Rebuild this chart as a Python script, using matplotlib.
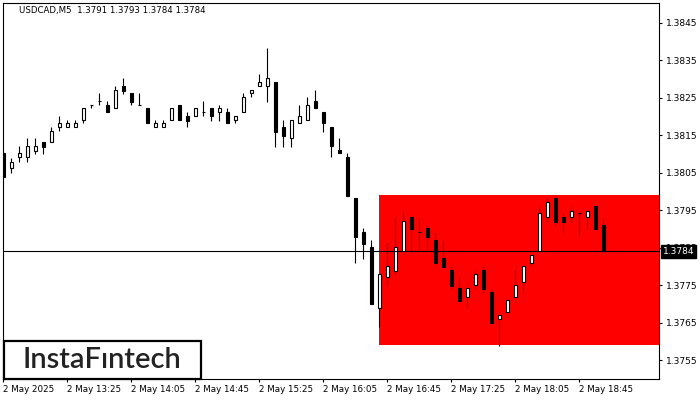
import matplotlib
matplotlib.use("Agg")
import matplotlib.pyplot as plt
import matplotlib.transforms as mtransforms
from matplotlib.patches import Rectangle
import numpy as np

title_text = "USDCAD,M5  1.3791 1.3793 1.3784 1.3784"

opens = [1.38103, 1.38063, 1.38092, 1.38092, 1.38108, 1.38132, 1.38132, 1.38172, 1.38172, 1.38172,
         1.38191, 1.38230, 1.38241, 1.38231, 1.38223, 1.38281, 1.38263, 1.38231, 1.38223, 1.38172,
         1.38172, 1.38191, 1.38231, 1.38201, 1.38201, 1.38212, 1.38223, 1.38212, 1.38212, 1.38191,
         1.38212, 1.38263, 1.38281, 1.38281, 1.38292, 1.38172, 1.38143, 1.38183, 1.38191, 1.38241,
         1.38212, 1.38172, 1.38111, 1.38092, 1.37983, 1.37892, 1.37852, 1.37689, 1.37772, 1.37788,
         1.37841, 1.37932, 1.37892, 1.37903, 1.37871, 1.37823, 1.37791, 1.37743, 1.37719, 1.37751,
         1.37791, 1.37732, 1.37660, 1.37679, 1.37719, 1.37759, 1.37809, 1.37841, 1.37932, 1.37983,
         1.37932, 1.37932, 1.37943, 1.37932, 1.37961, 1.37910]
highs = [1.38105, 1.38089, 1.38121, 1.38143, 1.38143, 1.38132, 1.38172, 1.38201, 1.38191, 1.38191,
         1.38223, 1.38231, 1.38263, 1.38241, 1.38281, 1.38303, 1.38263, 1.38263, 1.38223, 1.38191,
         1.38191, 1.38223, 1.38231, 1.38212, 1.38223, 1.38241, 1.38223, 1.38231, 1.38223, 1.38201,
         1.38263, 1.38271, 1.38313, 1.38383, 1.38292, 1.38191, 1.38191, 1.38231, 1.38252, 1.38271,
         1.38212, 1.38172, 1.38143, 1.38103, 1.37983, 1.37903, 1.37871, 1.37780, 1.37863, 1.37932,
         1.37951, 1.37932, 1.37929, 1.37911, 1.37892, 1.37871, 1.37801, 1.37772, 1.37743, 1.37791,
         1.37801, 1.37743, 1.37671, 1.37711, 1.37791, 1.37801, 1.37831, 1.37961, 1.37983, 1.37991,
         1.37943, 1.37961, 1.37943, 1.37948, 1.37961, 1.37930]
lows = [1.38036, 1.38049, 1.38079, 1.38079, 1.38100, 1.38100, 1.38132, 1.38161, 1.38172, 1.38172,
        1.38183, 1.38223, 1.38231, 1.38212, 1.38223, 1.38260, 1.38231, 1.38231, 1.38183, 1.38172,
        1.38172, 1.38191, 1.38191, 1.38172, 1.38201, 1.38201, 1.38188, 1.38188, 1.38183, 1.38183,
        1.38212, 1.38252, 1.38281, 1.38239, 1.38119, 1.38119, 1.38119, 1.38183, 1.38191, 1.38223,
        1.38159, 1.38092, 1.38103, 1.37988, 1.37809, 1.37820, 1.37700, 1.37639, 1.37748, 1.37777,
        1.37841, 1.37841, 1.37841, 1.37841, 1.37809, 1.37799, 1.37740, 1.37708, 1.37689, 1.37740,
        1.37729, 1.37649, 1.37588, 1.37679, 1.37719, 1.37729, 1.37799, 1.37841, 1.37919, 1.37908,
        1.37889, 1.37919, 1.37879, 1.37900, 1.37900, 1.37840]
closes = [1.38039, 1.38079, 1.38103, 1.38121, 1.38121, 1.38119, 1.38161, 1.38183, 1.38183, 1.38183,
          1.38223, 1.38231, 1.38241, 1.38212, 1.38271, 1.38268, 1.38239, 1.38231, 1.38183, 1.38183,
          1.38183, 1.38223, 1.38191, 1.38188, 1.38223, 1.38212, 1.38201, 1.38223, 1.38183, 1.38201,
          1.38252, 1.38271, 1.38292, 1.38303, 1.38159, 1.38148, 1.38191, 1.38201, 1.38231, 1.38223,
          1.38183, 1.38121, 1.38103, 1.37988, 1.37879, 1.37860, 1.37700, 1.37780, 1.37801, 1.37852,
          1.37921, 1.37900, 1.37892, 1.37879, 1.37809, 1.37799, 1.37748, 1.37708, 1.37743, 1.37780,
          1.37740, 1.37649, 1.37671, 1.37711, 1.37751, 1.37801, 1.37831, 1.37943, 1.37972, 1.37919,
          1.37919, 1.37948, 1.37943, 1.37948, 1.37900, 1.37840]

time_labels = ["2 May 2025", "2 May 13:25", "2 May 14:05", "2 May 14:45", "2 May 15:25",
               "2 May 16:05", "2 May 16:45", "2 May 17:25", "2 May 18:05", "2 May 18:45"]
time_label_bars = [0, 8, 16, 24, 32, 40, 48, 56, 64, 72]
price_ticks = [1.3755, 1.3765, 1.3775, 1.3785, 1.3795, 1.3805, 1.3815, 1.3825, 1.3835, 1.3845]
current_price = 1.3784
zone_start_bar = 47
zone_top = 1.3799
zone_bottom = 1.3759
brand = "InstaF\u0131ntech"

W, H = 700, 400
fig = plt.figure(figsize=(7, 4), dpi=100)
fig.patch.set_facecolor("white")
ax = fig.add_axes([2.7 / W, 21 / H, (659.3 - 2.7) / W, (379 - 2.7) / H])
ax.set_facecolor("white")

o = np.array(opens); h = np.array(highs); l = np.array(lows); c = np.array(closes)
x = np.arange(len(o))

ax.set_xlim(-0.1, 81.98)
ax.set_ylim(1.37500, 1.38503)

# zone
ax.add_patch(Rectangle((zone_start_bar - 0.05, zone_bottom), 100, zone_top - zone_bottom,
                       facecolor="#ff0000", edgecolor="none", zorder=1))

# wicks
ax.vlines(x, l, h, color="black", linewidth=0.8, zorder=3)
bull = c >= o
bottoms = np.minimum(o, c)
heights = np.maximum(np.abs(c - o), 1e-7)
ax.bar(x, heights, bottom=bottoms, width=0.47,
       color=np.where(bull, "white", "black"), edgecolor="black", linewidth=0.8, zorder=4)

ax.axhline(current_price, color="black", linewidth=0.8, zorder=5)

# axes styling
for s in ax.spines.values():
    s.set_color("black")
    s.set_linewidth(0.8)
ax.yaxis.tick_right()
ax.set_yticks(price_ticks)
ax.set_yticklabels([f"{p:.4f}" for p in price_ticks])
ax.tick_params(axis="y", which="both", direction="out", length=2.5, width=0.8, pad=2,
               labelsize=6.5, colors="black")
ax.set_xticks(time_label_bars)
ax.set_xticklabels(time_labels)
for lab in ax.get_xticklabels():
    lab.set_horizontalalignment("left")
ax.tick_params(axis="x", which="both", direction="out", length=2.5, width=0.8, pad=2,
               labelsize=6.3, colors="black")

# current price box
trans = mtransforms.blended_transform_factory(ax.transAxes, ax.transData)
ax.text(1.005, current_price, f"{current_price:.4f}", transform=trans, fontsize=6.5,
        color="white", va="center", ha="left", clip_on=False, zorder=10,
        bbox=dict(boxstyle="square,pad=0.22", facecolor="black", edgecolor="black"))

# title
ax.text(16.5 / (659.3 - 2.7), 1 - (11 - 2.7) / (379 - 2.7), title_text, transform=ax.transAxes,
        fontsize=6.2, color="black", va="center", ha="left", zorder=10)

# logo
logo = Rectangle((3.5 / W, 1 - 378.5 / H), 197.5 / W, 38 / H, transform=fig.transFigure,
                 facecolor="white", edgecolor="black", linewidth=1.6, zorder=20)
fig.patches.append(logo)
fig.text(102 / W, 1 - 359.5 / H, brand, fontsize=21, color="#222222", family="Lato",
         fontweight="semibold", ha="center", va="center", zorder=21)

fig.savefig("out.png", dpi=100, facecolor="white")
